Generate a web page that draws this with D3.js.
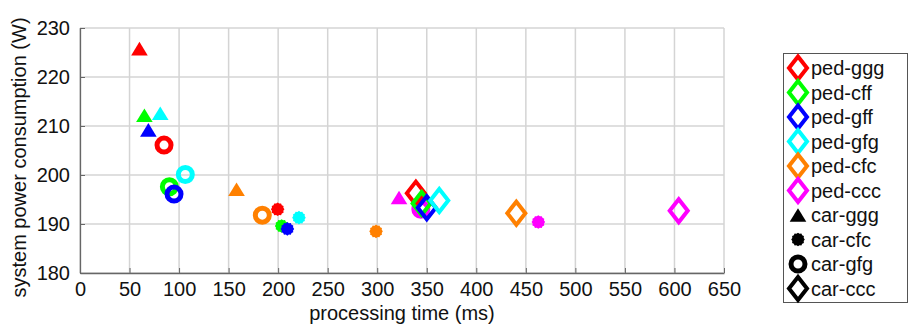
<!DOCTYPE html>
<html>
<head>
<meta charset="utf-8">
<script src="https://cdn.jsdelivr.net/npm/d3@7"></script>
<style>
  body { margin: 0; background: #fff; }
  text { font-family: "Liberation Sans", Arial, Helvetica, sans-serif; fill: #111; }
</style>
</head>
<body>
<svg id="chart" width="910" height="326"></svg>
<script>
// ped configurations (colour) and car configurations (marker shape)
var pedConfigs = ['ped-ggg', 'ped-cff', 'ped-gff', 'ped-gfg', 'ped-cfc', 'ped-ccc'];
var pedColors = ['#ff0000', '#00ff00', '#0000ff', '#00ffff', '#ff8000', '#ff00ff'];
var carConfigs = ['car-ggg', 'car-cfc', 'car-gfg', 'car-ccc'];
var carMarkers = ['triangle', 'asterisk', 'ring', 'diamond'];

// processing time (ms), one row per car config, columns follow pedConfigs
var timeMs = [
  [60, 65, 69, 81, 158, 322],
  [199.5, 203.5, 209.3, 221, 298.8, 462.6],
  [84.8, 90.2, 94.9, 106.3, 184, 344],
  [339, 344.8, 350, 362.6, 440.4, 604.3]
];
// system power consumption (W)
var powerW = [
  [225.8, 212.2, 209.2, 212.6, 197.1, 195.4],
  [193, 189.6, 189, 191.3, 188.5, 190.4],
  [206.1, 197.6, 196.1, 200.1, 191.8, 193],
  [196.3, 194.2, 193.3, 194.8, 192.2, 192.7]
];

var xTicks = d3.range(0, 651, 50);
var yTicks = d3.range(180, 231, 10);

var svg = d3.select('#chart');
var margin = { left: 80, right: 724, top: 28, bottom: 273 };

var x = d3.scaleLinear().domain([0, 650]).range([margin.left, margin.right]);
var y = d3.scaleLinear().domain([180, 230]).range([margin.bottom, margin.top]);

// grid
var grid = svg.append('g').attr('stroke', '#d4d4d4').attr('stroke-width', 1.5);
grid.selectAll('.vx').data(xTicks).enter().append('line')
  .attr('x1', function (d) { return x(d); }).attr('x2', function (d) { return x(d); })
  .attr('y1', margin.top).attr('y2', margin.bottom);
grid.selectAll('.hy').data(yTicks).enter().append('line')
  .attr('y1', function (d) { return y(d); }).attr('y2', function (d) { return y(d); })
  .attr('x1', margin.left).attr('x2', margin.right);

// axes (ticks pointing inward)
var xAxis = d3.axisBottom(x).tickValues(xTicks).tickSizeInner(-5).tickSizeOuter(0).tickPadding(9);
var yAxis = d3.axisLeft(y).tickValues(yTicks).tickSizeInner(-5).tickSizeOuter(0).tickPadding(10);

var gx = svg.append('g').attr('transform', 'translate(0,' + margin.bottom + ')').call(xAxis);
var gy = svg.append('g').attr('transform', 'translate(' + margin.left + ',0)').call(yAxis);
[gx, gy].forEach(function (g) {
  g.select('.domain').attr('stroke', '#666').attr('stroke-width', 1.3);
  g.selectAll('.tick line').attr('stroke', '#666');
  g.selectAll('.tick text').style('font-size', '20px').attr('fill', '#111');
});

// axis titles
svg.append('text')
  .attr('x', (margin.left + margin.right) / 2).attr('y', 320)
  .attr('text-anchor', 'middle').style('font-size', '20px')
  .text('processing time (ms)');
svg.append('text')
  .attr('transform', 'translate(26,' + ((margin.top + margin.bottom) / 2 + 7) + ') rotate(-90)')
  .attr('text-anchor', 'middle').style('font-size', '20px')
  .text('system power consumption (W)');

// marker drawing helper
function star(r1, r2, n) {
  var pts = [];
  for (var i = 0; i < n * 2; i++) {
    var a = Math.PI * i / n;
    var r = i % 2 ? r2 : r1;
    pts.push([r * Math.sin(a), -r * Math.cos(a)]);
  }
  return 'M' + pts.join('L') + 'Z';
}
function drawMarker(g, kind, color) {
  if (kind === 'triangle') {
    g.append('path').attr('d', 'M0,-6.8L8.3,6.8L-8.3,6.8Z').attr('fill', color);
  } else if (kind === 'asterisk') {
    g.append('path').attr('d', star(6.8, 5.9, 12)).attr('fill', color);
  } else if (kind === 'ring') {
    g.append('circle').attr('r', 7).attr('fill', 'none')
      .attr('stroke', color).attr('stroke-width', 5);
  } else {
    g.append('path').attr('d', 'M0,-11.5L9,0L0,11.5L-9,0Z').attr('fill', 'none')
      .attr('stroke', color).attr('stroke-width', 4).attr('stroke-linejoin', 'miter');
  }
}

// points: all of one car config, then the next
var pts = svg.append('g');
carMarkers.forEach(function (kind, ci) {
  pedColors.forEach(function (color, pi) {
    var g = pts.append('g')
      .attr('transform', 'translate(' + x(timeMs[ci][pi]) + ',' + y(powerW[ci][pi]) + ')');
    drawMarker(g, kind, color);
  });
});

// legend
var legend = svg.append('g');
legend.append('rect')
  .attr('x', 783.5).attr('y', 53.5).attr('width', 124).attr('height', 249)
  .attr('fill', '#fff').attr('stroke', '#555').attr('stroke-width', 1);
var entries = pedConfigs.map(function (name, i) {
  return { name: name, kind: 'diamond', color: pedColors[i] };
}).concat(carConfigs.map(function (name, i) {
  return { name: name, kind: carMarkers[i], color: '#000' };
}));
entries.forEach(function (e, i) {
  var cy = 68 + 24.5 * i;
  var g = legend.append('g').attr('transform', 'translate(798,' + cy + ')');
  drawMarker(g, e.kind, e.color);
  legend.append('text')
    .attr('x', 811).attr('y', cy + 7)
    .style('font-size', '20px')
    .text(e.name);
});
</script>
</body>
</html>
